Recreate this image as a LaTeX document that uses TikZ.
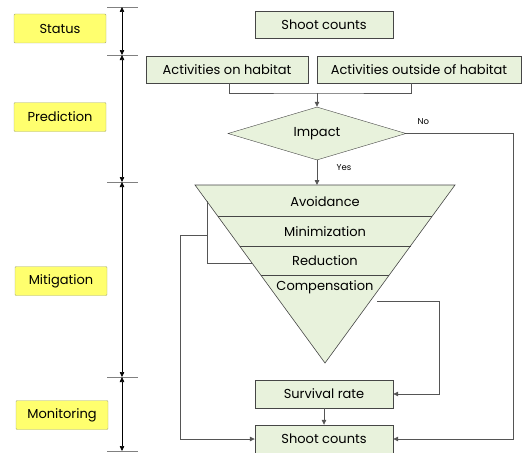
\documentclass[tikz,border=0pt]{standalone}
\usepackage{fontspec}
\setmainfont{Poppins}
\usetikzlibrary{shapes.geometric,arrows.meta,calc}
\definecolor{ylw}{RGB}{255,255,110}
\definecolor{ylwline}{RGB}{165,170,120}
\definecolor{grn}{RGB}{232,242,220}
\definecolor{grnline}{RGB}{70,70,70}
\definecolor{conn}{RGB}{85,85,85}
\begin{document}
\begin{tikzpicture}[x=1pt,y=-1pt,
  txt/.style={font=\fontsize{13}{15}\selectfont},
  phase/.style={txt, draw=ylwline, fill=ylw, rounded corners=1pt, minimum width=92pt, minimum height=29pt, inner sep=0pt},
  box/.style={txt, draw=grnline, fill=grn, minimum height=27pt, inner sep=0pt},
  link/.style={draw=conn, line width=0.8pt},
  arr/.style={link, -{Triangle[length=5pt,width=4.5pt]}},
  tickline/.style={draw=gray, line width=0.8pt},
  span/.style={draw=black, line width=0.6pt, {Triangle[length=5pt,width=4.5pt]}-{Triangle[length=5pt,width=4.5pt]}},
  small/.style={font=\fontsize{8.5}{10}\selectfont},
]
\useasboundingbox (0,0) rectangle (526,452);

% phase labels
\node[phase] (status) at (60,28.5) {Status};
\node[phase] (prediction) at (60,117) {Prediction};
\node[phase] (mitigation) at (61,281) {Mitigation};
\node[phase] (monitoring) at (62,415) {Monitoring};

% axis
\foreach \n/\y in {t0/7,t1/55,t2/182,t3/377,t4/451}{
  \coordinate (\n) at (122,\y);
  \draw[tickline] (107,\y) -- (138,\y);
}
\draw[span] (t0) -- (t1);
\draw[span] (t1) -- (t2);
\draw[span] (t2) -- (t3);
\draw[span] (t3) -- (t4);

% boxes
\node[box, minimum width=138pt] (sc1) at (324,24.5) {Shoot counts};
\node[box, minimum width=162pt] (act1) at (227,69.5) {Activities on habitat};
\node[box, minimum width=204pt] (act2) at (419,69.5) {Activities outside of habitat};
\node[txt, diamond, draw=grnline, fill=grn, minimum width=178pt, minimum height=53pt, aspect=3.36, inner sep=0pt] (impact) at (317,133.5) {Impact};

% triangle
\coordinate (tl) at (195,185);
\coordinate (tr) at (455,185);
\coordinate (tb) at (325,363);
\draw[fill=grn, draw=grnline, line width=0.6pt] (tl) -- (tr) -- (tb) -- cycle;
\coordinate (b1l) at (217.6,216); \coordinate (b1r) at (432.4,216);
\coordinate (b2l) at (239.5,246); \coordinate (b2r) at (410.5,246);
\coordinate (b3l) at (260.7,275); \coordinate (b3r) at (389.3,275);
\draw[grnline, line width=0.6pt] (b1l) -- (b1r) (b2l) -- (b2r) (b3l) -- (b3r);
\node[txt] (avoid) at (325,201.5) {Avoidance};
\node[txt] (minim) at (325,231.5) {Minimization};
\node[txt] (reduc) at (325,261) {Reduction};
\node[txt] (comp) at (325,287.5) {Compensation};

\node[box, minimum width=138pt, minimum height=28pt] (surv) at (324,394) {Survival rate};
\node[box, minimum width=138pt, minimum height=28pt] (sc2) at (324,439) {Shoot counts};

% connectors
\coordinate (merge) at (317,93);
\draw[link] ([xshift=2pt]act1.south) |- (merge) -| ([xshift=-8pt]act2.south);
\draw[arr] (merge) -- (impact.north);
\coordinate (nocorner) at (513,133.5);
\draw[arr] (impact.east) -- (nocorner) |- (sc2.east);
\node[small, anchor=west] (nolbl) at (414,122) {No};
\coordinate (ytop) at (317,185);
\draw[arr] (impact.south) -- (ytop);
\node[small, anchor=west] (yeslbl) at (333,168) {Yes};

% left loop
\coordinate (la) at (207,201.4);
\coordinate (lb) at (252,263);
\coordinate (lc) at (207,235);
\coordinate (ld) at (180,235);
\draw[link] (la) |- (lb);
\draw[arr] (lc) -- (ld) |- (sc2.west);

% right loop
\coordinate (ra) at (377,301);
\coordinate (rb) at (439,301);
\draw[arr] (ra) -- (rb) |- (surv.east);
\draw[arr] (surv.south) -- (sc2.north);
\end{tikzpicture}
\end{document}
